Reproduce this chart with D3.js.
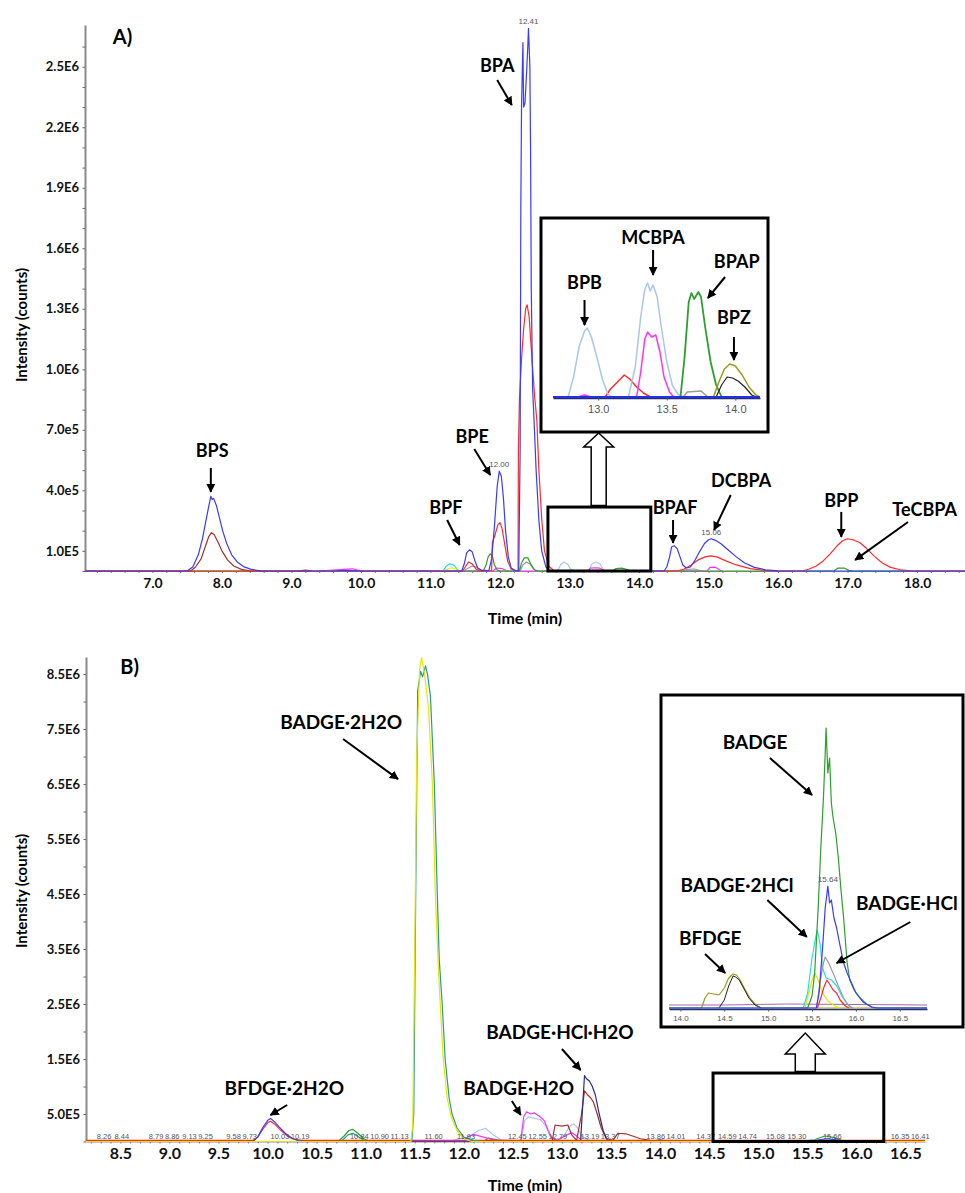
<!DOCTYPE html>
<html>
<head>
<meta charset="utf-8">
<script src="https://cdn.jsdelivr.net/npm/d3@7"></script>
<style>
  body { margin: 0; background: #fff; }
  svg { display: block; font-family: Lato, "Open Sans", sans-serif; }
  .lbl { font-size: 18px; font-weight: 700; fill: #000; }
  .axlbl { font-size: 15px; font-weight: 700; fill: #000; }
  .tag { font-family: "Liberation Sans", Arial, sans-serif; fill: #555; }
</style>
</head>
<body>
<div id="chart"></div>
<script>
// ---------------- panel A data (time in min, intensity in counts) ----------------
const aYTicks = [1e5, 4e5, 7e5, 1.0e6, 1.3e6, 1.6e6, 1.9e6, 2.2e6, 2.5e6];
const aYTickLabels = ["1.0E5", "4.0e5", "7.0e5", "1.0E6", "1.3E6", "1.6E6", "1.9E6", "2.2E6", "2.5E6"];
const aXTicks = [7, 8, 9, 10, 11, 12, 13, 14, 15, 16, 17, 18];
const aXTickLabels = ["7.0", "8.0", "9.0", "10.0", "11.0", "12.0", "13.0", "14.0", "15.0", "16.0", "17.0", "18.0"];

const aBlue = [[6.03,0],[7.50,0],[7.58,2e4],[7.66,8e4],[7.72,1.6e5],[7.77,2.5e5],[7.81,3.2e5],[7.84,3.7e5],[7.86,3.55e5],[7.88,3.6e5],[7.92,3.25e5],[7.96,2.7e5],[8.01,2.0e5],[8.07,1.35e5],[8.14,8e4],[8.22,4.5e4],[8.31,2.2e4],[8.42,8e3],[8.55,1e3],[8.65,0],
  [9.6,0],[9.75,3e3],[9.9,2e3],[10.0,0],
  [11.45,0],[11.49,4e4],[11.52,9e4],[11.56,1.05e5],[11.6,9.5e4],[11.64,5e4],[11.68,1.5e4],[11.74,3e3],[11.84,2e3],[11.88,6e4],[11.92,2.2e5],[11.96,4.2e5],[11.99,4.95e5],[12.02,4.7e5],[12.05,3.6e5],[12.08,2.0e5],[12.12,7e4],[12.16,1.5e4],[12.22,2e3],
  [12.27,0],[12.29,6e5],[12.30,1.8e6],[12.31,2.3e6],[12.33,2.62e6],[12.34,2.3e6],[12.36,2.32e6],[12.38,2.45e6],[12.40,2.6e6],[12.41,2.69e6],[12.43,2.5e6],[12.44,2.1e6],[12.45,1.4e6],[12.47,9e5],[12.49,7.5e5],[12.52,5e5],[12.56,2.5e5],[12.60,1e5],[12.66,2e4],[12.72,0],
  [14.36,0],[14.4,2e4],[14.44,7e4],[14.47,1.2e5],[14.51,1.25e5],[14.55,1.1e5],[14.59,7e4],[14.63,3e4],[14.68,1.5e4],[14.74,2e4],[14.8,5e4],[14.87,9.5e4],[14.94,1.35e5],[15.0,1.55e5],[15.04,1.6e5],[15.1,1.52e5],[15.18,1.35e5],[15.28,1.05e5],[15.4,7e4],[15.52,4e4],[15.66,1.8e4],[15.82,6e3],[16.0,1e3],[16.1,0],[18.69,0]];
const aRed = [[6.03,0],[11.46,0],[11.5,2e4],[11.55,4.5e4],[11.6,3.5e4],[11.66,8e3],[11.72,0],
  [11.88,0],[11.89,1.4e5],[11.93,1.8e5],[11.97,2.3e5],[12.0,2.4e5],[12.03,2.1e5],[12.07,1.3e5],[12.11,5e4],[12.16,1e4],[12.24,0],
  [12.26,0],[12.265,6e5],[12.28,8.5e5],[12.31,1.05e6],[12.34,1.2e6],[12.37,1.3e6],[12.39,1.32e6],[12.42,1.26e6],[12.46,1.05e6],[12.5,8.6e5],[12.53,7.5e5],[12.56,5e5],[12.6,2.6e5],[12.64,1e5],[12.7,2.5e4],[12.78,0],
  [14.55,0],[14.65,1e4],[14.75,3e4],[14.85,5.5e4],[14.95,7e4],[15.03,7.5e4],[15.12,7e4],[15.25,5e4],[15.4,3e4],[15.6,1.2e4],[15.8,3e3],[15.95,0],
  [16.35,0],[16.45,1e4],[16.55,2.5e4],[16.65,5e4],[16.75,8.5e4],[16.85,1.25e5],[16.93,1.5e5],[17.0,1.6e5],[17.08,1.55e5],[17.18,1.4e5],[17.28,1.1e5],[17.38,7.5e4],[17.5,4e4],[17.62,1.8e4],[17.76,6e3],[17.9,1e3],[18.0,0],[18.69,0]];
const aBrown = [[6.03,0],[7.55,0],[7.62,2e4],[7.7,6e4],[7.76,1.2e5],[7.81,1.7e5],[7.85,1.9e5],[7.89,1.8e5],[7.94,1.45e5],[8.0,1.0e5],[8.08,5.5e4],[8.17,2.5e4],[8.28,8e3],[8.4,1e3],[8.5,0],[9.1,0],[9.2,4e3],[9.3,0]];
const aGreen = [[6.03,0],[11.76,0],[11.8,3e4],[11.83,7e4],[11.86,8.5e4],[11.89,7.5e4],[11.92,3e4],[11.96,5e3],[12.0,0],[12.28,0],[12.31,4e4],[12.35,6.5e4],[12.4,6.5e4],[12.45,3e4],[12.5,5e3],[12.55,0],[13.62,0],[13.67,1.2e4],[13.75,1.4e4],[13.82,8e3],[13.88,0],[16.8,0],[16.86,1.4e4],[16.95,1.5e4],[17.02,3e3],[17.08,0],[18.69,0]];
const aGray = [[11.46,0],[11.52,1e4],[11.6,2.5e4],[11.66,2e4],[11.72,5e3],[11.78,0],[12.29,0],[12.33,3e4],[12.38,4.5e4],[12.43,3.5e4],[12.48,1e4],[12.53,0],[14.6,0],[14.7,8e3],[14.8,1e4],[14.9,0]];
const aCyan = [[11.18,0],[11.23,2.5e4],[11.28,3.5e4],[11.33,3e4],[11.38,1e4],[11.42,0]];
const aYellow = [[11.2,0],[11.25,1e4],[11.3,1.6e4],[11.36,1e4],[11.42,0]];
const aMagenta = [[9.4,0],[9.6,5e3],[9.75,8e3],[9.88,1.1e4],[9.95,5e3],[10.05,0],[11.9,0],[11.95,1.5e4],[12.03,1.2e4],[12.1,0],[13.27,0],[13.3,1.4e4],[13.37,1.6e4],[13.44,1.4e4],[13.5,0],[14.98,0],[15.02,1.8e4],[15.1,1.9e4],[15.16,5e3],[15.2,0]];
const aLightBlue = [[12.83,0],[12.87,3e4],[12.92,4.5e4],[12.97,3.5e4],[13.02,8e3],[13.06,0],[13.28,0],[13.32,3.5e4],[13.38,4.5e4],[13.44,3.5e4],[13.5,0]];

// inset A (relative intensity)
const iaXTicks = [13.0, 13.5, 14.0];
const iaLightBlue = [[12.78,0],[12.82,20],[12.86,50],[12.9,66],[12.92,69],[12.95,60],[12.99,40],[13.03,18],[13.07,3],[13.1,0],[13.22,0],[13.27,30],[13.31,80],[13.34,108],[13.36,114],[13.38,106],[13.4,112],[13.43,100],[13.46,70],[13.5,35],[13.54,12],[13.58,3],[13.62,0]];
const iaMagenta = [[12.85,0],[12.9,2],[12.95,0],[13.28,0],[13.31,25],[13.34,58],[13.36,65],[13.39,60],[13.42,62],[13.45,45],[13.48,20],[13.52,5],[13.55,0]];
const iaRed = [[13.05,0],[13.09,8],[13.14,15],[13.19,22],[13.23,18],[13.28,10],[13.33,4],[13.38,0]];
const iaGreen = [[13.6,0],[13.63,40],[13.66,95],[13.68,104],[13.7,98],[13.73,105],[13.75,100],[13.78,70],[13.82,35],[13.86,12],[13.9,0]];
const iaGray = [[13.62,0],[13.65,5],[13.75,6],[13.8,0]];
const iaOlive = [[13.84,0],[13.88,15],[13.92,28],[13.96,33],[14.0,31],[14.05,22],[14.1,10],[14.15,2],[14.18,0]];
const iaBlack = [[13.86,0],[13.9,12],[13.94,20],[13.98,19],[14.02,16],[14.07,10],[14.12,2],[14.15,0]];
const iaBlue = [[12.67,0],[14.18,0]];

// ---------------- panel B data ----------------
const bYTicks = [5e5, 1.5e6, 2.5e6, 3.5e6, 4.5e6, 5.5e6, 6.5e6, 7.5e6, 8.5e6];
const bYTickLabels = ["5.0E5", "1.5E6", "2.5E6", "3.5E6", "4.5E6", "5.5E6", "6.5E6", "7.5E6", "8.5E6"];
const bXTicks = [8.5, 9.0, 9.5, 10.0, 10.5, 11.0, 11.5, 12.0, 12.5, 13.0, 13.5, 14.0, 14.5, 15.0, 15.5, 16.0, 16.5];
const bRtLabels = ["8.26","8.44","8.79","8.86","9.13","9.25","9.58","9.73","10.03","10.19","10.84","10.90","11.13","11.60","11.93","12.45","12.55","12.79","13.19","13.37","13.86","14.01","14.37","14.59","14.74","15.08","15.30","15.66","16.35","16.41"];

const bYellow = [[8.15,0],[11.46,0],[11.48,3e5],[11.5,3.5e6],[11.52,7.0e6],[11.55,8.6e6],[11.57,8.8e6],[11.6,8.5e6],[11.64,7.9e6],[11.68,6.5e6],[11.71,4.5e6],[11.74,3.2e6],[11.76,2.5e6],[11.79,1.5e6],[11.83,8e5],[11.87,4.5e5],[11.93,2e5],[12.0,5e4],[12.08,0],[16.7,0]];
const bTeal = [[8.15,0],[10.75,0],[10.82,1.2e5],[10.87,1.5e5],[10.93,8e4],[11.0,0],[11.47,0],[11.49,5e5],[11.51,4.5e6],[11.53,8.2e6],[11.56,8.55e6],[11.58,8.45e6],[11.61,8.65e6],[11.63,8.5e6],[11.66,8.1e6],[11.7,6.5e6],[11.73,4.5e6],[11.75,3.3e6],[11.78,2.5e6],[11.81,1.5e6],[11.85,8e5],[11.88,5e5],[11.93,2.5e5],[12.0,8e4],[12.1,2e4],[12.2,0],[16.7,0]];
const bBlue = [[8.15,0],[9.85,0],[9.9,8e4],[9.95,2.5e5],[10.0,3.8e5],[10.03,4.2e5],[10.07,3.6e5],[10.12,2.6e5],[10.18,1.5e5],[10.25,6e4],[10.32,1e4],[10.4,0],[15.55,0],[15.62,3e4],[15.7,5e4],[15.8,3e4],[15.9,0],[16.7,0]];
const bRed = [[8.15,2e4],[9.85,2e4],[9.9,8e4],[9.95,2.2e5],[10.0,3.4e5],[10.03,3.7e5],[10.07,3.2e5],[10.12,2.3e5],[10.18,1.3e5],[10.25,5e4],[10.35,2e4],[16.7,2e4]];
const bGreen = [[8.15,0],[10.72,0],[10.78,1e5],[10.83,2e5],[10.87,2.2e5],[10.92,1.5e5],[10.98,5e4],[11.05,0],[12.2,0],[12.25,6e4],[12.32,4e4],[12.4,0],[15.55,0],[15.6,5e4],[15.68,1e5],[15.78,7e4],[15.88,0],[16.7,0]];
const bLightBlue = [[11.85,0],[11.95,5e4],[12.05,8e4],[12.15,2e5],[12.22,2.4e5],[12.3,1.2e5],[12.38,3e4],[12.5,2e4],[12.58,0],[12.62,3.8e5],[12.66,4.5e5],[12.72,4.2e5],[12.78,4e5],[12.83,3e5],[12.88,1e5],[12.95,2e4],[13.02,1e5],[13.08,2.8e5],[13.12,3.2e5],[13.16,2.5e5],[13.2,1e5],[13.28,2e4],[13.35,0]];
const bMagenta = [[12.0,0],[12.05,1e5],[12.12,1.2e5],[12.2,8e4],[12.3,3e4],[12.58,0],[12.61,4.5e5],[12.64,5.4e5],[12.68,5e5],[12.72,5.2e5],[12.77,4.6e5],[12.82,3.8e5],[12.86,2e5],[12.9,6e4],[12.95,2e4],[13.05,1.2e5],[13.1,1.6e5],[13.15,1e5],[13.2,2e4],[13.3,0]];
const bBrown = [[8.15,0],[12.9,0],[12.93,3e5],[13.0,2.8e5],[13.06,3e5],[13.1,1.2e5],[13.15,2e4],[13.2,5e5],[13.23,9.2e5],[13.26,8.5e5],[13.29,8e5],[13.32,7.2e5],[13.36,5e5],[13.4,2.5e5],[13.45,6e4],[13.52,2e4],[13.57,1.5e5],[13.65,1.4e5],[13.72,1e5],[13.8,5e4],[13.9,2e4],[14.1,0],[16.7,0]];
const bNavy = [[12.9,0],[13.19,0],[13.21,6e5],[13.23,1.2e6],[13.25,1.14e6],[13.28,1.1e6],[13.31,1.0e6],[13.34,8.5e5],[13.38,5e5],[13.42,2e5],[13.46,3e4],[13.5,0],[13.9,0],[14.0,3e4],[14.1,0]];
const bCyan = [[15.45,0],[15.55,3e4],[15.6,2e4],[15.7,0]];

// inset B (relative intensity)
const ibXTicks = [14.0, 14.5, 15.0, 15.5, 16.0, 16.5];
const ibGreen = [[13.87,0],[15.45,0],[15.5,12],[15.53,35],[15.57,100],[15.6,160],[15.63,210],[15.65,255],[15.66,280],[15.68,235],[15.7,250],[15.72,205],[15.74,190],[15.77,175],[15.8,150],[15.83,118],[15.86,90],[15.9,45],[15.93,28],[15.98,18],[16.05,10],[16.12,4],[16.2,0],[16.81,0]];
const ibBlue = [[13.87,0],[15.55,0],[15.58,15],[15.62,60],[15.65,100],[15.68,122],[15.7,105],[15.72,108],[15.75,90],[15.78,80],[15.82,62],[15.86,45],[15.9,35],[15.95,25],[16.0,15],[16.08,6],[16.18,1],[16.25,0],[16.81,0]];
const ibCyan = [[15.4,0],[15.45,15],[15.5,50],[15.54,70],[15.56,78],[15.59,65],[15.62,40],[15.66,30],[15.72,28],[15.78,22],[15.84,12],[15.9,4],[15.96,0]];
const ibYellow = [[15.42,0],[15.47,18],[15.51,30],[15.53,35],[15.57,28],[15.62,15],[15.68,7],[15.76,2],[15.82,0]];
const ibGray = [[15.55,0],[15.59,25],[15.63,45],[15.65,51],[15.69,45],[15.74,35],[15.8,22],[15.86,10],[15.92,2],[15.96,0]];
const ibRed = [[15.56,0],[15.6,10],[15.64,22],[15.67,28],[15.7,24],[15.74,18],[15.78,15],[15.82,8],[15.88,2],[15.92,0]];
const ibOlive = [[13.87,0],[14.24,0],[14.28,10],[14.32,15],[14.38,14],[14.44,13],[14.5,20],[14.55,30],[14.6,34],[14.64,33],[14.68,28],[14.74,18],[14.8,9],[14.86,3],[14.92,0],[16.81,0]];
const ibBlack = [[14.44,0],[14.5,8],[14.55,22],[14.6,32],[14.63,31],[14.67,28],[14.72,20],[14.78,10],[14.85,3],[14.92,0]];
const ibPurple = [[13.87,3],[14.5,3],[15.2,4],[16.81,3]];

// ---------------- annotations (in data units of each plot) ----------------
const aNotes = [
  {text: "BPS",    t: 7.86,  v: 5.95e5, arrow: [7.84, 5.11e5, 7.84, 3.92e5]},
  {text: "BPF",    t: 11.22, v: 3.12e5, arrow: [11.24, 2.53e5, 11.42, 1.29e5]},
  {text: "BPE",    t: 11.60, v: 6.64e5, arrow: [11.63, 6.05e5, 11.86, 4.76e5]},
  {text: "BPA",    t: 11.96, v: 2.504e6, arrow: [11.96, 2.434e6, 12.17, 2.31e6]},
  {text: "BPAF",   t: 14.52, v: 3.12e5, arrow: [14.49, 2.53e5, 14.49, 1.39e5]},
  {text: "DCBPA",  t: 15.47, v: 4.46e5, arrow: [15.32, 3.77e5, 15.08, 2.03e5]},
  {text: "BPP",    t: 16.91, v: 3.47e5, arrow: [16.91, 2.93e5, 16.91, 1.69e5]},
  {text: "TeCBPA", t: 18.11, v: 3.02e5, arrow: [17.87, 2.43e5, 17.11, 0.55e5]}
];
const aPeakTags = [{text: "12.41", t: 12.41, v: 2.69e6}, {text: "12.00", t: 11.99, v: 4.95e5}, {text: "15.06", t: 15.04, v: 1.6e5}];
const iaNotes = [
  {text: "BPB",   t: 12.90, v: 114, arrow: [12.90, 97, 12.90, 72]},
  {text: "MCBPA", t: 13.40, v: 159, arrow: [13.40, 147, 13.40, 122]},
  {text: "BPAP",  t: 14.01, v: 135, arrow: [13.925, 120, 13.80, 99]},
  {text: "BPZ",   t: 13.99, v: 79,  arrow: [13.99, 60, 13.99, 37]}
];
const bNotes = [
  {text: "BADGE·2H2O",    t: 10.75, v: 7.627e6, arrow: [10.77, 7.318e6, 11.33, 6.59e6]},
  {text: "BFDGE·2H2O",    t: 10.17, v: 0.973e6, arrow: [10.20, 0.664e6, 10.03, 0.482e6]},
  {text: "BADGE·H2O",     t: 12.56, v: 0.973e6, arrow: [12.49, 0.736e6, 12.58, 0.482e6]},
  {text: "BADGE·HCl·H2O", t: 12.98, v: 1.991e6, arrow: [13.00, 1.682e6, 13.19, 1.30e6]}
];
const ibNotes = [
  {text: "BADGE",      t: 14.85,  v: 266, arrow: [15.02, 250, 15.50, 213]},
  {text: "BADGE·2HCl", t: 14.645, v: 123, arrow: [14.99, 108, 15.44, 71]},
  {text: "BADGE·HCl",  t: 16.58,  v: 105, arrow: [16.62, 86, 15.78, 45]},
  {text: "BFDGE",      t: 14.34,  v: 70,  arrow: [14.28, 54, 14.51, 35]}
];
const ibPeakTags = [{text: "15.64", t: 15.68, v: 122}];

// ---------------- colours ----------------
const C = {blue: "#3a3aff", red: "#ff2a2a", brown: "#a3302c", green: "#2e9e2e", gray: "#9a9a9a",
  cyan: "#22e0e0", yellow: "#e6e600", magenta: "#ff30ff", lightblue: "#a9c6ee", olive: "#9a9a20",
  black: "#222", navy: "#2a2a8c", teal: "#2a9a8a", purple: "#aa66aa"};

// ---------------- drawing ----------------
const svg = d3.select("#chart").append("svg").attr("width", 965).attr("height", 1193);

svg.append("defs").append("marker")
  .attr("id", "head").attr("viewBox", "0 0 10 10").attr("refX", 9).attr("refY", 5)
  .attr("markerWidth", 4.5).attr("markerHeight", 4.5).attr("orient", "auto")
  .append("path").attr("d", "M0,0L10,5L0,10z").attr("fill", "#000");

function drawLines(g, x, y, series) {
  const line = d3.line().x(d => x(d[0])).y(d => y(d[1]));
  g.append("g").selectAll("path")
    .data(series)
    .join("path")
    .attr("d", d => line(d.pts))
    .attr("fill", "none")
    .attr("stroke", d => d.color)
    .attr("stroke-width", d => d.w || 1.2)
    .attr("stroke-linejoin", "round");
}

function drawNotes(g, x, y, notes, size) {
  notes.forEach(n => {
    g.append("text")
      .attr("class", "lbl")
      .attr("x", x(n.t)).attr("y", y(n.v)).attr("dy", "0.35em")
      .attr("text-anchor", "middle")
      .style("font-size", size + "px")
      .text(n.text);
    g.append("line")
      .attr("x1", x(n.arrow[0])).attr("y1", y(n.arrow[1]))
      .attr("x2", x(n.arrow[2])).attr("y2", y(n.arrow[3]))
      .attr("stroke", "#000").attr("stroke-width", 2)
      .attr("marker-end", "url(#head)");
  });
}

function drawTags(g, x, y, tags, size) {
  g.selectAll(null).data(tags).join("text")
    .attr("class", "tag")
    .attr("x", d => x(d.t)).attr("y", d => y(d.v) - 4)
    .attr("text-anchor", "middle")
    .style("font-size", size + "px")
    .text(d => d.text);
}

function hollowArrow(g, cx, yBase, yTip, shaft, head, headLen) {
  const p = [[cx - shaft, yBase], [cx - shaft, yTip + headLen], [cx - head, yTip + headLen], [cx, yTip],
             [cx + head, yTip + headLen], [cx + shaft, yTip + headLen], [cx + shaft, yBase]];
  g.append("polygon").attr("points", p.map(d => d.join(",")).join(" "))
    .attr("fill", "#fff").attr("stroke", "#000").attr("stroke-width", 1.5);
}

function mainAxes(g, x, y, o) {
  const x0 = x.range()[0], y0 = y.range()[0];
  // y: minor ticks + domain
  const ym = g.append("g").attr("transform", `translate(${x0},0)`)
    .call(d3.axisLeft(y).tickValues(o.yMinor).tickSize(2.5).tickSizeOuter(0).tickFormat(""));
  ym.select(".domain").attr("stroke", "#8a8a8a").attr("stroke-width", 2);
  ym.selectAll(".tick line").attr("stroke", "#666");
  // y labels
  const yl = g.append("g").attr("transform", `translate(${x0},0)`)
    .call(d3.axisLeft(y).tickValues(o.yTicks).tickSize(0).tickPadding(6).tickFormat((d, i) => o.yLabels[i]));
  yl.attr("font-family", "Lato, sans-serif").attr("font-size", o.yFont).attr("font-weight", 700);
  yl.select(".domain").remove();
  yl.selectAll("text").attr("fill", "#111");
  // x: minor ticks
  const xm = g.append("g").attr("transform", `translate(0,${y0})`)
    .call(d3.axisBottom(x).tickValues(o.xMinor).tickSize(2).tickSizeOuter(0).tickFormat(""));
  xm.select(".domain").attr("stroke", "#8a8a8a").attr("stroke-width", 1);
  xm.selectAll(".tick line").attr("stroke", "#777");
  const xl = g.append("g").attr("transform", `translate(0,${y0})`)
    .call(d3.axisBottom(x).tickValues(o.xTicks).tickSize(0).tickPadding(o.xPad).tickFormat((d, i) => o.xLabels[i]));
  xl.attr("font-family", "Lato, sans-serif").attr("font-size", o.xFont).attr("font-weight", 700);
  xl.select(".domain").remove();
  xl.selectAll("text").attr("fill", "#111");
  // titles
  g.append("text").attr("class", "axlbl").attr("x", o.xTitle[0]).attr("y", o.xTitle[1])
    .attr("text-anchor", "middle").style("font-size", "16px").text("Time (min)");
  g.append("text").attr("class", "axlbl")
    .attr("transform", `translate(${o.yTitle[0]},${o.yTitle[1]}) rotate(-90)`)
    .attr("text-anchor", "middle").attr("dy", "0.35em").text("Intensity (counts)");
}

function insetAxis(g, x, y0, ticks, font, pad) {
  const ax = g.append("g").attr("transform", `translate(0,${y0})`)
    .call(d3.axisBottom(x).tickValues(ticks).tickSize(2.5).tickSizeOuter(0).tickPadding(pad).tickFormat(d3.format(".1f")));
  ax.attr("font-family", "'Liberation Sans', Arial, sans-serif").attr("font-size", font);
  ax.select(".domain").attr("stroke", "#2a2a7a").attr("stroke-width", 1.5);
  ax.selectAll(".tick line").attr("stroke", "#555");
  ax.selectAll("text").attr("fill", "#555");
}

// ======================= PANEL A =======================
const gA = svg.append("g");
const xA = d3.scaleLinear().domain([6.03, 18.69]).range([85, 965]);
const yA = d3.scaleLinear().domain([0, 2.707e6]).range([571, 25]);

mainAxes(gA, xA, yA, {
  yMinor: d3.range(0, 2.70e6, 1e5), yTicks: aYTicks, yLabels: aYTickLabels, yFont: 13,
  xMinor: d3.range(6.2, 18.7, 0.2), xTicks: aXTicks, xLabels: aXTickLabels, xFont: 14, xPad: 7,
  xTitle: [525, 624], yTitle: [22, 325]
});

drawLines(gA, xA, yA, [
  {pts: aLightBlue, color: C.lightblue},
  {pts: aMagenta, color: C.magenta},
  {pts: aCyan, color: C.cyan},
  {pts: aYellow, color: C.yellow},
  {pts: aGray, color: C.gray},
  {pts: aGreen, color: C.green},
  {pts: aBrown, color: C.brown},
  {pts: aRed, color: C.red},
  {pts: aBlue, color: C.blue}
]);
drawNotes(gA, xA, yA, aNotes, 18);
drawTags(gA, xA, yA, aPeakTags, 8);

gA.append("text").attr("class", "lbl").style("font-size", "20px")
  .attr("x", xA(6.43)).attr("y", yA(2.648e6)).attr("dy", "0.35em").text("A)");

// zoom box and hollow arrow
const aBox = {t0: 12.69, t1: 14.17, v: 3.17e5};
gA.append("rect")
  .attr("x", xA(aBox.t0)).attr("y", yA(aBox.v))
  .attr("width", xA(aBox.t1) - xA(aBox.t0)).attr("height", yA(0) - yA(aBox.v))
  .attr("fill", "none").attr("stroke", "#000").attr("stroke-width", 3);
hollowArrow(gA, xA(13.42), yA(aBox.v) - 1.5, 433, 7.5, 15, 14);

// inset A
const iaG = svg.append("g");
iaG.append("rect").attr("x", 541).attr("y", 218).attr("width", 227).attr("height", 214)
  .attr("fill", "#fff").attr("stroke", "#000").attr("stroke-width", 3);
const ixA = d3.scaleLinear().domain([12.67, 14.18]).range([553, 760]);
const iyA = d3.scaleLinear().domain([0, 170]).range([397, 227]);
insetAxis(iaG, ixA, 398, iaXTicks, 11, 5);
drawLines(iaG, ixA, iyA, [
  {pts: iaGray, color: C.gray, w: 1.5},
  {pts: iaRed, color: C.red, w: 1.5},
  {pts: iaLightBlue, color: C.lightblue, w: 1.5},
  {pts: iaMagenta, color: C.magenta, w: 1.5},
  {pts: iaGreen, color: C.green, w: 1.8},
  {pts: iaOlive, color: C.olive, w: 1.5},
  {pts: iaBlack, color: C.black, w: 1.2},
  {pts: iaBlue, color: "#2233dd", w: 2}
]);
drawNotes(iaG, ixA, iyA, iaNotes, 18);

// ======================= PANEL B =======================
const gB = svg.append("g");
const xB = d3.scaleLinear().domain([8.15, 16.70]).range([86, 925]);
const yB = d3.scaleLinear().domain([0, 8.81e6]).range([1141.5, 657]);

mainAxes(gB, xB, yB, {
  yMinor: d3.range(0, 8.8e6, 5e5), yTicks: bYTicks, yLabels: bYTickLabels, yFont: 13,
  xMinor: d3.range(8.2, 16.7, 0.1), xTicks: bXTicks, xLabels: bXTicks.map(d3.format(".1f")), xFont: 16, xPad: 6,
  xTitle: [525, 1191], yTitle: [22, 891]
});

drawLines(gB, xB, yB, [
  {pts: bGreen, color: C.green},
  {pts: bCyan, color: C.cyan},
  {pts: bLightBlue, color: C.lightblue},
  {pts: bMagenta, color: C.magenta},
  {pts: bBrown, color: C.brown},
  {pts: bNavy, color: C.navy},
  {pts: bRed, color: C.red},
  {pts: bBlue, color: C.blue},
  {pts: bTeal, color: C.teal},
  {pts: bYellow, color: C.yellow}
]);
drawNotes(gB, xB, yB, bNotes, 19);

gB.append("text").attr("class", "lbl").style("font-size", "20px")
  .attr("x", xB(8.50)).attr("y", yB(8.627e6)).attr("dy", "0.35em").text("B)");

// retention-time tags along the baseline, pushed right where they collide
let lastEnd = -Infinity;
bRtLabels.forEach(s => {
  const t = gB.append("text").attr("class", "tag").style("font-size", "7.5px")
    .attr("y", yB(0) - 3).text(s);
  const px = Math.max(xB(+s), lastEnd + 1.5);
  t.attr("x", px);
  lastEnd = px + t.node().getComputedTextLength();
});

const bBox = {t0: 14.54, t1: 16.28, v: 1.245e6};
gB.append("rect")
  .attr("x", xB(bBox.t0)).attr("y", yB(bBox.v))
  .attr("width", xB(bBox.t1) - xB(bBox.t0)).attr("height", yB(0) - yB(bBox.v))
  .attr("fill", "none").attr("stroke", "#000").attr("stroke-width", 3);
hollowArrow(gB, xB(15.48), yB(bBox.v) - 1.5, 1033, 10, 20, 21);

// inset B
const ibG = svg.append("g");
ibG.append("rect").attr("x", 661).attr("y", 695).attr("width", 302).attr("height", 332)
  .attr("fill", "#fff").attr("stroke", "#000").attr("stroke-width", 3);
const ixB = d3.scaleLinear().domain([13.87, 16.81]).range([669, 927]);
const iyB = d3.scaleLinear().domain([0, 290]).range([1008, 718]);
insetAxis(ibG, ixB, 1009, ibXTicks, 8, 4);
drawLines(ibG, ixB, iyB, [
  {pts: ibPurple, color: C.purple, w: 1},
  {pts: ibOlive, color: C.olive, w: 1.2},
  {pts: ibBlack, color: C.black, w: 1},
  {pts: ibYellow, color: C.yellow, w: 1.2},
  {pts: ibCyan, color: C.cyan, w: 1.2},
  {pts: ibRed, color: C.red, w: 1.2},
  {pts: ibGray, color: C.gray, w: 1.2},
  {pts: ibGreen, color: C.green, w: 1.2},
  {pts: ibBlue, color: C.blue, w: 1.2}
]);
drawNotes(ibG, ixB, iyB, ibNotes, 19);
drawTags(ibG, ixB, iyB, ibPeakTags, 8);
</script>
</body>
</html>
